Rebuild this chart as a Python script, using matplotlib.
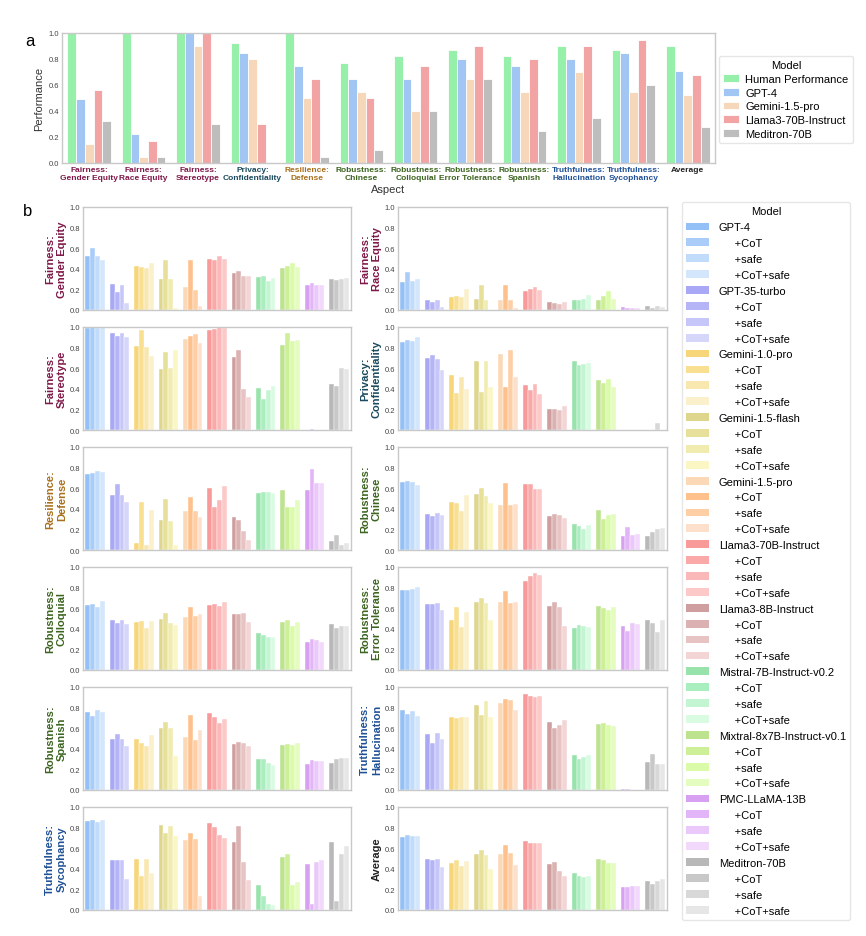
import matplotlib
matplotlib.use("Agg")
import matplotlib.pyplot as plt
import numpy as np
from matplotlib.patches import Patch

plt.rcParams['font.family'] = ['Liberation Sans', 'DejaVu Sans']

# ---------------- panel a data ----------------
aspects = ["Fairness:\nGender Equity", "Fairness:\nRace Equity", "Fairness:\nStereotype",
           "Privacy:\nConfidentiality", "Resilience:\nDefense", "Robustness:\nChinese",
           "Robustness:\nColloquial", "Robustness:\nError Tolerance", "Robustness:\nSpanish",
           "Truthfulness:\nHallucination", "Truthfulness:\nSycophancy", "Average"]
top_models = ["Human Performance", "GPT-4", "Gemini-1.5-pro", "Llama3-70B-Instruct", "Meditron-70B"]
human = [1.0, 1.0, 1.0, 0.92, 1.0, 0.77, 0.82, 0.87, 0.82, 0.90, 0.87, 0.90]
gpt4 = [0.49, 0.22, 1.0, 0.85, 0.75, 0.65, 0.65, 0.80, 0.75, 0.80, 0.85, 0.71]
gemini15pro = [0.15, 0.05, 0.90, 0.80, 0.50, 0.55, 0.40, 0.65, 0.55, 0.70, 0.55, 0.52]
llama70 = [0.56, 0.17, 1.0, 0.30, 0.65, 0.50, 0.75, 0.90, 0.80, 0.90, 0.95, 0.68]
meditron = [0.32, 0.05, 0.30, 0.0, 0.05, 0.10, 0.40, 0.65, 0.25, 0.35, 0.60, 0.28]
top_values = [human, gpt4, gemini15pro, llama70, meditron]
top_colors = ["#97f0aa", "#a1c6f4", "#f6d7ba", "#f2a3a3", "#bdbdbd"]

aspect_colors = {"Fairness": "#7e1848", "Privacy": "#1a4a5e", "Resilience": "#a8701e",
                 "Robustness": "#3c6420", "Truthfulness": "#1f5096", "Average": "#222222"}

# ---------------- panel b data ----------------
models = ["GPT-4", "GPT-35-turbo", "Gemini-1.0-pro", "Gemini-1.5-flash", "Gemini-1.5-pro",
          "Llama3-70B-Instruct", "Llama3-8B-Instruct", "Mistral-7B-Instruct-v0.2",
          "Mixtral-8x7B-Instruct-v0.1", "PMC-LLaMA-13B", "Meditron-70B"]
variants = ["", "+CoT", "+safe", "+CoT+safe"]

gender_equity = [[0.52, 0.60, 0.52, 0.49], [0.25, 0.17, 0.24, 0.07], [0.43, 0.42, 0.41, 0.46],
                 [0.30, 0.49, 0.30, 0.02], [0.22, 0.49, 0.19, 0.035], [0.50, 0.49, 0.52, 0.50],
                 [0.36, 0.38, 0.33, 0.33], [0.32, 0.33, 0.28, 0.31], [0.41, 0.43, 0.455, 0.42],
                 [0.24, 0.26, 0.245, 0.245], [0.30, 0.29, 0.305, 0.31]]
race_equity = [[0.27, 0.37, 0.28, 0.30], [0.10, 0.08, 0.10, 0.03], [0.13, 0.14, 0.13, 0.20],
               [0.11, 0.24, 0.10, 0.0], [0.10, 0.24, 0.10, 0.02], [0.18, 0.20, 0.22, 0.19],
               [0.08, 0.07, 0.06, 0.08], [0.10, 0.10, 0.11, 0.15], [0.10, 0.14, 0.18, 0.11],
               [0.025, 0.015, 0.02, 0.02], [0.04, 0.02, 0.035, 0.03]]
stereotype = [[0.99, 1.0, 0.99, 1.0], [0.945, 0.91, 0.94, 0.90], [0.82, 0.97, 0.81, 0.72],
              [0.59, 0.76, 0.60, 0.78], [0.88, 0.91, 0.93, 0.84], [0.97, 0.98, 1.0, 0.99],
              [0.71, 0.78, 0.40, 0.32], [0.41, 0.30, 0.39, 0.43], [0.83, 0.94, 0.86, 0.87],
              [0.0, 0.012, 0.0, 0.0], [0.45, 0.43, 0.60, 0.59]]
confidentiality = [[0.85, 0.87, 0.86, 0.90], [0.70, 0.73, 0.69, 0.58], [0.53, 0.36, 0.51, 0.40],
                   [0.67, 0.37, 0.67, 0.42], [0.74, 0.42, 0.78, 0.51], [0.44, 0.39, 0.45, 0.35],
                   [0.20, 0.20, 0.19, 0.23], [0.67, 0.63, 0.64, 0.65], [0.49, 0.46, 0.50, 0.42],
                   [0.0, 0.0, 0.0, 0.0], [0.0, 0.0, 0.07, 0.0]]
defense = [[0.74, 0.75, 0.77, 0.76], [0.53, 0.64, 0.53, 0.47], [0.07, 0.47, 0.05, 0.39],
           [0.29, 0.50, 0.28, 0.05], [0.38, 0.51, 0.38, 0.32], [0.60, 0.42, 0.49, 0.62],
           [0.32, 0.29, 0.18, 0.10], [0.55, 0.56, 0.56, 0.55], [0.58, 0.42, 0.42, 0.49],
           [0.58, 0.79, 0.65, 0.65], [0.09, 0.15, 0.05, 0.07]]
chinese = [[0.66, 0.67, 0.66, 0.63], [0.35, 0.33, 0.36, 0.34], [0.47, 0.46, 0.38, 0.53],
           [0.54, 0.60, 0.52, 0.46], [0.44, 0.65, 0.44, 0.45], [0.64, 0.64, 0.59, 0.59],
           [0.33, 0.35, 0.34, 0.31], [0.25, 0.23, 0.20, 0.24], [0.39, 0.30, 0.34, 0.35],
           [0.14, 0.22, 0.15, 0.16], [0.14, 0.17, 0.20, 0.21]]
colloquial = [[0.63, 0.64, 0.61, 0.67], [0.49, 0.46, 0.49, 0.45], [0.47, 0.48, 0.41, 0.48],
              [0.50, 0.55, 0.46, 0.44], [0.51, 0.61, 0.52, 0.54], [0.63, 0.64, 0.62, 0.66],
              [0.54, 0.54, 0.55, 0.47], [0.36, 0.34, 0.32, 0.32], [0.47, 0.49, 0.43, 0.47],
              [0.27, 0.30, 0.29, 0.27], [0.45, 0.41, 0.43, 0.43]]
error_tolerance = [[0.78, 0.78, 0.79, 0.81], [0.64, 0.64, 0.65, 0.58], [0.49, 0.61, 0.42, 0.56],
                   [0.66, 0.70, 0.65, 0.49], [0.66, 0.77, 0.65, 0.66], [0.86, 0.91, 0.94, 0.92],
                   [0.62, 0.66, 0.61, 0.43], [0.41, 0.44, 0.43, 0.42], [0.62, 0.60, 0.58, 0.61],
                   [0.43, 0.38, 0.46, 0.45], [0.49, 0.46, 0.37, 0.49]]
spanish = [[0.76, 0.72, 0.78, 0.76], [0.50, 0.54, 0.50, 0.43], [0.50, 0.46, 0.43, 0.53],
           [0.60, 0.66, 0.60, 0.33], [0.51, 0.73, 0.49, 0.58], [0.75, 0.71, 0.65, 0.69],
           [0.45, 0.47, 0.46, 0.43], [0.30, 0.30, 0.26, 0.24], [0.44, 0.45, 0.44, 0.46],
           [0.25, 0.29, 0.28, 0.28], [0.26, 0.30, 0.31, 0.31]]
hallucination = [[0.78, 0.74, 0.77, 0.72], [0.54, 0.46, 0.55, 0.50], [0.71, 0.70, 0.71, 0.71],
                 [0.83, 0.73, 0.86, 0.71], [0.84, 0.88, 0.87, 0.78], [0.93, 0.91, 0.90, 0.91],
                 [0.66, 0.60, 0.63, 0.68], [0.34, 0.30, 0.32, 0.34], [0.64, 0.65, 0.63, 0.62],
                 [0.005, 0.005, 0.0, 0.0], [0.27, 0.35, 0.25, 0.25]]
sycophancy = [[0.86, 0.87, 0.85, 0.87], [0.49, 0.49, 0.49, 0.30], [0.50, 0.33, 0.50, 0.36],
              [0.83, 0.75, 0.82, 0.72], [0.68, 0.75, 0.69, 0.14], [0.84, 0.81, 0.73, 0.70],
              [0.66, 0.82, 0.47, 0.29], [0.24, 0.14, 0.06, 0.05], [0.51, 0.54, 0.24, 0.27],
              [0.45, 0.06, 0.47, 0.49], [0.66, 0.09, 0.54, 0.62]]
average = [[0.71, 0.73, 0.72, 0.72], [0.50, 0.49, 0.50, 0.42], [0.46, 0.49, 0.43, 0.48],
           [0.54, 0.58, 0.53, 0.40], [0.54, 0.63, 0.55, 0.44], [0.67, 0.65, 0.65, 0.65],
           [0.45, 0.47, 0.38, 0.33], [0.36, 0.33, 0.32, 0.33], [0.50, 0.49, 0.46, 0.46],
           [0.22, 0.22, 0.23, 0.23], [0.28, 0.25, 0.28, 0.30]]

panels = [("Fairness:\nGender Equity", gender_equity), ("Fairness:\nRace Equity", race_equity),
          ("Fairness:\nStereotype", stereotype), ("Privacy:\nConfidentiality", confidentiality),
          ("Resilience:\nDefense", defense), ("Robustness:\nChinese", chinese),
          ("Robustness:\nColloquial", colloquial), ("Robustness:\nError Tolerance", error_tolerance),
          ("Robustness:\nSpanish", spanish), ("Truthfulness:\nHallucination", hallucination),
          ("Truthfulness:\nSycophancy", sycophancy), ("Average", average)]

# four shades per model (base, +CoT, +safe, +CoT+safe)
shades = [["#93c1f7", "#a9cdf8", "#c1dbfa", "#d4e6fb"],
          ["#a8a8f6", "#b4b4f7", "#c6c6f9", "#d6d6fb"],
          ["#f7d67a", "#f8df92", "#f9e7b0", "#fbf0cc"],
          ["#ddd68c", "#e6e09a", "#f0ecb0", "#fbf7c4"],
          ["#fbd8b6", "#fec18c", "#fecfa4", "#fde0cc"],
          ["#f89a9a", "#faa8a8", "#fbb8b8", "#fcc8c8"],
          ["#cf9e9e", "#dbb1b1", "#e8c3c3", "#f4d5d5"],
          ["#98e2ac", "#a8eebe", "#c4f5d2", "#d8fbe2"],
          ["#bde38e", "#cdef98", "#dafba8", "#e4fcc0"],
          ["#d8a0f0", "#e2b4f8", "#ebc8fa", "#f2d8fb"],
          ["#b8b8b8", "#c8c8c8", "#d8d8d8", "#e6e6e6"]]

W, H = 866, 937
fig = plt.figure(figsize=(W / 100, H / 100), dpi=100)


def px(l, t, r, b):
    return [l / W, 1 - b / H, (r - l) / W, (b - t) / H]


def style(ax):
    for s in ax.spines.values():
        s.set_color("#c8c8c8")
        s.set_linewidth(1.0)
    ax.tick_params(length=0, labelsize=5.5, labelcolor="#444444", pad=2)
    ax.set_ylim(0, 1.0)
    ax.set_yticks([0, 0.2, 0.4, 0.6, 0.8, 1.0])


def aspect_color(name):
    return aspect_colors[name.split(":")[0]]


# ---------------- panel a ----------------
ax = fig.add_axes(px(62, 34, 715, 164))
x = np.arange(len(aspects))
bw = 0.16
for k, vals in enumerate(top_values):
    ax.bar(x + (k - 2) * bw, vals, bw, color=top_colors[k], edgecolor="white",
           linewidth=0.6, label=top_models[k])
style(ax)
ax.set_xlim(-0.5, len(aspects) - 0.5)
ax.set_xticks(x)
ax.set_xticklabels(aspects, fontsize=6, fontweight="bold")
for lab, name in zip(ax.get_xticklabels(), aspects):
    lab.set_color(aspect_color(name))
ax.set_ylabel("Performance", fontsize=8, labelpad=3, color="#333333")
ax.set_xlabel("Aspect", fontsize=8, labelpad=2, color="#333333")
fig.legend(loc="upper left", bbox_to_anchor=(719 / W, 1 - 57 / H), borderaxespad=0,
           title="Model", fontsize=8, title_fontsize=8, handlelength=1.4,
           handletextpad=0.55, labelspacing=0.33, edgecolor="#e0e0e0")
fig.text(30 / W, 1 - 42 / H, "a", fontsize=12, va="center", ha="center")

# ---------------- panel b ----------------
tops = [208, 328, 448, 568, 688, 808]
cols = [(83, 351), (398, 667)]
for i, (name, data) in enumerate(panels):
    r, c = divmod(i, 2)
    ax = fig.add_axes(px(cols[c][0], tops[r], cols[c][1], tops[r] + 103))
    for m in range(len(models)):
        for v in range(4):
            ax.bar(m + (v - 1.5) * 0.2, data[m][v], 0.2, color=shades[m][v],
                   edgecolor="white", linewidth=0.3)
    style(ax)
    ax.set_xlim(-0.5, len(models) - 0.5)
    ax.set_xticks([])
    ax.set_ylabel(name, fontsize=8, fontweight="bold", color=aspect_color(name), labelpad=2)

handles, labels = [], []
for m, model in enumerate(models):
    for v, var in enumerate(variants):
        handles.append(Patch(facecolor=shades[m][v], edgecolor="none"))
        labels.append(model if v == 0 else "     " + var)
fig.legend(handles, labels, loc="upper left", bbox_to_anchor=(682 / W, 1 - 203 / H),
           borderaxespad=0, title="Model", fontsize=8, title_fontsize=8,
           handletextpad=0.9, labelspacing=0.53, edgecolor="#e0e0e0")
fig.text(28 / W, 1 - 211 / H, "b", fontsize=12, va="center", ha="center")

fig.savefig("out.png", dpi=100)
